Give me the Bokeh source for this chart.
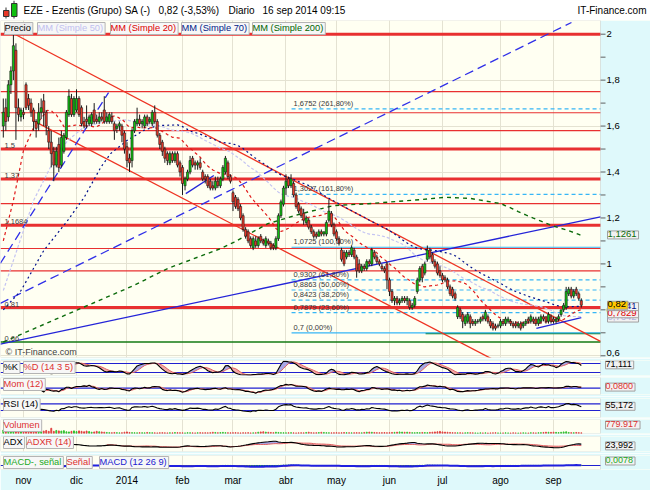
import numpy as np
import pandas as pd
from bokeh.plotting import figure
from bokeh.layouts import column
from bokeh.models import (Range1d, FixedTicker, CustomJSTickFormatter, Span, Label,
                          Grid, LinearAxis, BoxAnnotation)
from bokeh.embed import file_html
from bokeh.resources import INLINE

# ---------------- data ----------------
first_day = "2013-10-22"
last_day = "2014-09-16"
market_holidays = ["2013-12-25", "2013-12-26", "2014-01-01",
                   "2014-04-18", "2014-04-21", "2014-05-01"]
month_names = {1: "2014", 2: "feb", 3: "mar", 4: "abr", 5: "may", 6: "jun",
               7: "jul", 8: "ago", 9: "sep", 10: "oct", 11: "nov", 12: "dic"}

opens = [
    1.60, 1.68, 1.64, 1.78, 1.84, 1.93, 1.68, 1.64, 1.66, 1.78,
    1.72, 1.70, 1.67, 1.62, 1.61, 1.66, 1.71, 1.66, 1.58, 1.53,
    1.49, 1.43, 1.52, 1.43, 1.49, 1.55, 1.65, 1.72, 1.65, 1.67,
    1.72, 1.68, 1.62, 1.63, 1.61, 1.61, 1.67, 1.63, 1.62, 1.64,
    1.67, 1.62, 1.62, 1.64, 1.61, 1.59, 1.60, 1.60, 1.57, 1.51,
    1.46, 1.45, 1.58, 1.61, 1.63, 1.61, 1.60, 1.64, 1.62, 1.61,
    1.66, 1.62, 1.56, 1.53, 1.50, 1.48, 1.44, 1.48, 1.45, 1.48,
    1.44, 1.42, 1.34, 1.37, 1.40, 1.46, 1.44, 1.43, 1.44, 1.40,
    1.38, 1.38, 1.36, 1.34, 1.33, 1.36, 1.34, 1.37, 1.40, 1.44,
    1.38, 1.31, 1.29, 1.28, 1.25, 1.21, 1.15, 1.14, 1.11, 1.07,
    1.10, 1.08, 1.12, 1.10, 1.08, 1.10, 1.09, 1.08, 1.07, 1.11,
    1.21, 1.26, 1.33, 1.37, 1.34, 1.35, 1.30, 1.26, 1.24, 1.22,
    1.18, 1.19, 1.16, 1.14, 1.13, 1.12, 1.14, 1.13, 1.13, 1.19,
    1.22, 1.17, 1.14, 1.11, 1.06, 1.05, 1.03, 1.05, 1.04, 1.06,
    1.03, 1.00, 0.97, 0.99, 0.98, 1.01, 1.00, 1.05, 1.03, 1.01,
    0.99, 0.98, 1.00, 0.93, 0.88, 0.84, 0.85, 0.83, 0.84, 0.85,
    0.84, 0.84, 0.81, 0.82, 0.88, 0.93, 0.99, 0.96, 1.02, 1.06,
    1.04, 1.01, 1.00, 0.97, 0.95, 0.94, 0.93, 0.90, 0.89, 0.87,
    0.77, 0.80, 0.78, 0.74, 0.75, 0.77, 0.75, 0.74, 0.75, 0.75,
    0.77, 0.76, 0.77, 0.75, 0.74, 0.73, 0.73, 0.73, 0.75, 0.74,
    0.75, 0.75, 0.74, 0.74, 0.73, 0.74, 0.73, 0.74, 0.76, 0.75,
    0.76, 0.76, 0.74, 0.75, 0.77, 0.77, 0.75, 0.77, 0.76, 0.75,
    0.76, 0.78, 0.80, 0.81, 0.87, 0.89, 0.86, 0.89, 0.87, 0.84]
highs = [
    1.72, 1.72, 1.80, 1.86, 2.00, 1.96, 1.72, 1.68, 1.68, 1.79,
    1.74, 1.72, 1.68, 1.63, 1.70, 1.72, 1.74, 1.67, 1.60, 1.58,
    1.51, 1.51, 1.55, 1.58, 1.57, 1.67, 1.76, 1.74, 1.73, 1.76,
    1.73, 1.69, 1.64, 1.69, 1.65, 1.66, 1.70, 1.65, 1.66, 1.66,
    1.73, 1.66, 1.66, 1.66, 1.62, 1.61, 1.62, 1.61, 1.58, 1.53,
    1.48, 1.59, 1.63, 1.68, 1.65, 1.63, 1.65, 1.65, 1.64, 1.67,
    1.69, 1.63, 1.57, 1.54, 1.51, 1.49, 1.49, 1.49, 1.49, 1.49,
    1.45, 1.43, 1.38, 1.41, 1.47, 1.47, 1.45, 1.45, 1.46, 1.41,
    1.39, 1.39, 1.37, 1.36, 1.38, 1.38, 1.38, 1.43, 1.47, 1.45,
    1.39, 1.32, 1.30, 1.29, 1.26, 1.22, 1.16, 1.15, 1.12, 1.12,
    1.12, 1.12, 1.13, 1.11, 1.12, 1.11, 1.10, 1.09, 1.12, 1.22,
    1.28, 1.34, 1.39, 1.38, 1.39, 1.36, 1.31, 1.27, 1.25, 1.24,
    1.21, 1.20, 1.17, 1.15, 1.14, 1.15, 1.15, 1.14, 1.19, 1.28,
    1.23, 1.18, 1.15, 1.12, 1.07, 1.06, 1.06, 1.06, 1.08, 1.07,
    1.04, 1.02, 1.00, 1.00, 1.02, 1.02, 1.07, 1.06, 1.04, 1.02,
    1.00, 0.99, 1.01, 0.94, 0.89, 0.86, 0.86, 0.85, 0.86, 0.86,
    0.86, 0.85, 0.83, 0.86, 0.94, 0.99, 1.00, 1.01, 1.08, 1.07,
    1.05, 1.02, 1.01, 0.99, 0.96, 0.95, 0.94, 0.91, 0.90, 0.88,
    0.82, 0.81, 0.79, 0.78, 0.79, 0.78, 0.76, 0.76, 0.76, 0.77,
    0.78, 0.80, 0.78, 0.76, 0.75, 0.74, 0.74, 0.76, 0.76, 0.77,
    0.77, 0.76, 0.75, 0.75, 0.75, 0.75, 0.75, 0.76, 0.77, 0.78,
    0.77, 0.77, 0.77, 0.78, 0.78, 0.77, 0.79, 0.78, 0.77, 0.77,
    0.78, 0.80, 0.83, 0.90, 0.90, 0.90, 0.89, 0.90, 0.88, 0.85]
lows = [
    1.55, 1.58, 1.62, 1.74, 1.80, 1.54, 1.62, 1.62, 1.63, 1.67,
    1.67, 1.64, 1.58, 1.55, 1.58, 1.63, 1.60, 1.56, 1.50, 1.42,
    1.36, 1.42, 1.40, 1.42, 1.48, 1.54, 1.64, 1.64, 1.64, 1.66,
    1.64, 1.60, 1.59, 1.59, 1.60, 1.60, 1.61, 1.61, 1.61, 1.62,
    1.61, 1.61, 1.61, 1.61, 1.54, 1.57, 1.58, 1.53, 1.48, 1.42,
    1.40, 1.42, 1.57, 1.60, 1.60, 1.59, 1.59, 1.60, 1.61, 1.60,
    1.61, 1.55, 1.50, 1.47, 1.44, 1.43, 1.43, 1.44, 1.44, 1.42,
    1.38, 1.30, 1.32, 1.36, 1.39, 1.42, 1.41, 1.41, 1.41, 1.36,
    1.35, 1.33, 1.32, 1.32, 1.32, 1.33, 1.33, 1.36, 1.39, 1.37,
    1.35, 1.23, 1.24, 1.23, 1.19, 1.14, 1.11, 1.09, 1.07, 1.06,
    1.07, 1.07, 1.09, 1.08, 1.07, 1.08, 1.06, 1.06, 1.06, 1.10,
    1.20, 1.25, 1.30, 1.33, 1.33, 1.29, 1.24, 1.22, 1.20, 1.17,
    1.17, 1.15, 1.13, 1.11, 1.11, 1.12, 1.12, 1.12, 1.12, 1.18,
    1.16, 1.12, 1.10, 1.08, 1.01, 0.99, 1.02, 1.03, 1.03, 1.02,
    0.94, 0.96, 0.96, 0.97, 0.97, 0.99, 0.99, 1.02, 1.00, 0.99,
    0.97, 0.96, 0.89, 0.86, 0.83, 0.82, 0.82, 0.82, 0.83, 0.83,
    0.82, 0.80, 0.80, 0.81, 0.87, 0.92, 0.92, 0.95, 1.01, 1.02,
    1.00, 0.98, 0.95, 0.94, 0.92, 0.92, 0.89, 0.86, 0.85, 0.84,
    0.76, 0.76, 0.72, 0.73, 0.74, 0.72, 0.73, 0.73, 0.74, 0.74,
    0.75, 0.75, 0.74, 0.72, 0.71, 0.71, 0.72, 0.72, 0.73, 0.73,
    0.74, 0.73, 0.72, 0.72, 0.72, 0.71, 0.72, 0.73, 0.74, 0.74,
    0.74, 0.73, 0.73, 0.74, 0.75, 0.74, 0.74, 0.74, 0.74, 0.74,
    0.75, 0.77, 0.79, 0.80, 0.86, 0.85, 0.85, 0.86, 0.84, 0.81]
closes = [
    1.66, 1.62, 1.78, 1.84, 1.95, 1.68, 1.65, 1.67, 1.65, 1.68,
    1.69, 1.66, 1.62, 1.59, 1.66, 1.68, 1.66, 1.60, 1.53, 1.48,
    1.43, 1.49, 1.42, 1.55, 1.56, 1.66, 1.73, 1.65, 1.72, 1.72,
    1.65, 1.61, 1.60, 1.62, 1.64, 1.65, 1.62, 1.62, 1.64, 1.63,
    1.62, 1.64, 1.65, 1.62, 1.58, 1.60, 1.61, 1.56, 1.50, 1.45,
    1.44, 1.58, 1.62, 1.63, 1.61, 1.62, 1.64, 1.61, 1.63, 1.66,
    1.62, 1.56, 1.52, 1.49, 1.46, 1.45, 1.48, 1.45, 1.48, 1.43,
    1.40, 1.35, 1.37, 1.40, 1.45, 1.43, 1.43, 1.44, 1.42, 1.37,
    1.37, 1.34, 1.33, 1.33, 1.36, 1.34, 1.37, 1.42, 1.46, 1.38,
    1.36, 1.27, 1.25, 1.24, 1.20, 1.15, 1.12, 1.10, 1.08, 1.11,
    1.08, 1.11, 1.10, 1.09, 1.11, 1.09, 1.07, 1.07, 1.11, 1.21,
    1.27, 1.33, 1.36, 1.34, 1.37, 1.30, 1.25, 1.23, 1.21, 1.19,
    1.20, 1.16, 1.14, 1.12, 1.12, 1.14, 1.13, 1.14, 1.18, 1.23,
    1.17, 1.13, 1.11, 1.09, 1.02, 1.00, 1.05, 1.04, 1.07, 1.03,
    0.97, 0.97, 0.99, 0.98, 1.01, 1.00, 1.06, 1.03, 1.01, 1.00,
    0.98, 0.97, 0.93, 0.88, 0.84, 0.85, 0.83, 0.84, 0.85, 0.84,
    0.85, 0.81, 0.82, 0.85, 0.93, 0.98, 0.94, 1.00, 1.06, 1.03,
    1.01, 0.99, 0.96, 0.95, 0.93, 0.93, 0.90, 0.87, 0.86, 0.85,
    0.81, 0.77, 0.75, 0.77, 0.78, 0.74, 0.74, 0.75, 0.75, 0.76,
    0.76, 0.79, 0.75, 0.73, 0.72, 0.72, 0.73, 0.75, 0.74, 0.76,
    0.76, 0.74, 0.73, 0.73, 0.74, 0.72, 0.74, 0.75, 0.75, 0.77,
    0.75, 0.74, 0.76, 0.77, 0.76, 0.75, 0.78, 0.75, 0.75, 0.76,
    0.77, 0.80, 0.82, 0.88, 0.89, 0.86, 0.88, 0.87, 0.85, 0.82]
volumes_k = [
    4000, 3500, 5000, 6000, 8000, 5000, 3000, 2500, 2000, 3000,
    2500, 2000, 1800, 2200, 3000, 2500, 2800, 3500, 2500, 6000,
    2500, 3500, 3000, 2800, 3200, 2000, 1800, 2500, 3000, 2200,
    3000, 2500, 2000, 2800, 2200, 1500, 1800, 2500, 2000, 1800,
    1500, 1200, 1000, 900, 1200, 1000, 800, 900, 1500, 1800,
    1200, 1000, 900, 800, 1000, 900, 800, 1200, 1000, 900,
    800, 700, 900, 1000, 800, 700, 900, 800, 1100, 1000,
    900, 800, 700, 1000, 900, 800, 700, 900, 1000, 800,
    900, 800, 1000, 1400, 1200, 900, 1100, 1300, 1000, 900,
    800, 900, 1000, 800, 700, 900, 800, 1000, 700, 800,
    900, 1500, 1800, 2000, 1600, 1400, 1200, 1000, 1500, 1200,
    1000, 900, 800, 900, 1000, 800, 700, 800, 900, 800,
    1200, 1500, 1000, 800, 900, 1100, 1400, 1200, 1000, 900,
    800, 900, 1000, 800, 900, 1100, 1000, 900, 800, 900,
    1000, 900, 800, 1200, 1500, 1600, 1400, 1200, 1000, 900,
    1000, 1100, 900, 1000, 1200, 1300, 1500, 1800, 1600, 1400,
    1500, 1300, 1000, 900, 1100, 1000, 1200, 1100, 1000, 1300,
    1500, 1800, 2000, 2400, 1800, 1600, 1400, 1200, 1000, 900,
    800, 900, 700, 800, 1000, 900, 800, 700, 600, 800,
    700, 800, 600, 700, 800, 900, 700, 600, 700, 800,
    700, 600, 800, 700, 600, 700, 800, 700, 600, 900,
    800, 700, 900, 1000, 1200, 1500, 1400, 1300, 1500, 1300,
    1100, 1400, 1800, 2000, 1200, 1000, 900, 1200, 1000, 780]

sma20_early_x = [0, 4, 8, 12, 17.5]
sma20_early_v = [1.10, 1.276, 1.494, 1.593, 1.668]
sma50_early_x = [0, 12, 20, 25.5, 31.8, 38.6]
sma50_early_v = [0.884, 1.276, 1.45, 1.537, 1.594, 1.615]
sma70_early_x = [0, 7, 16, 25.5, 32, 38.6, 42.5, 49, 55.6, 61]
sma70_early_v = [0.80, 0.884, 1.058, 1.189, 1.289, 1.42, 1.48, 1.537, 1.581, 1.602]
sma200_early_x = [0, 29.4, 51.7, 65.1, 86.2, 91.3, 104.8, 117.9, 131, 144.5, 165.5, 175, 185, 197.3]
sma200_early_v = [0.66, 0.80, 0.906, 0.98, 1.067, 1.094, 1.175, 1.218, 1.254, 1.262, 1.28, 1.29, 1.285, 1.262]

# last values shown in the boxes at the right
last_price = 0.82
last_sma200 = 1.1261
last_sma70 = 0.8141
last_sma20 = 0.7829
last_sma50 = 0.7642
last_stoch = 71.111
last_mom = 0.0800
last_rsi = 55.172
last_volume = 779917
last_adx = 23.992
last_macd = 0.0078

price_ticks = [0.6, 0.7, 0.8, 0.9, 1.0, 1.1, 1.2, 1.3, 1.4, 1.5, 1.6, 1.7, 1.8, 1.9, 2.0]
price_grid = [0.6, 0.8, 1.0, 1.2, 1.4, 1.6, 1.8, 2.0]

thick_levels = [2.0, 1.5, 1.37, 1.1684, 0.81]
thin_levels = [1.75, 1.658, 1.58, 1.262, 1.067, 0.97]
level_label_prices = [1.5, 1.37, 1.1684, 0.81, 0.66]
level_label_texts = ["1,5", "1,37", "1,1684", "0,81", "0,66"]
green_level = 0.66
green_level2 = 0.697
green_level2_start = 167.3

fib_levels = [1.6752, 1.3027, 1.0725, 0.9302, 0.8863, 0.8423, 0.7879, 0.7]
fib_pcts = ["261,80%", "161,80%", "100,00%", "61,80%", "50,00%", "38,20%", "23,60%", "0,00%"]
fib_solid = [False, False, True, False, False, False, False, True]
fib_start = 114.2

# drawn trend lines: (index, price) end points
trend_x0 = [4.0, 11.6, -1.2, -1.2, -1.2, 72.3, 211.2]
trend_y0 = [2.003, 1.625, 0.651, 0.828, 1.002, 1.306, 0.719]
trend_x1 = [236.6, 236.6, 236.6, 225.1, 41.7, 83.4, 229.0]
trend_y1 = [0.663, 0.341, 1.205, 2.051, 1.746, 1.385, 0.766]
trend_color = ["#ee3322", "#ee3322", "#2424d8", "#3030e8", "#3030e8", "#2424d8", "#2424d8"]
trend_dash = ["solid", "solid", "solid", "9 5", "9 5", "solid", "solid"]

# ---------------- geometry & styling ----------------
FONT = "Liberation Sans"
CYAN = "#dff9fb"
CREAM = "#fffff2"
GRID = "#e4e2d2"
FRAME = "#a8a8a8"
RED = "#e83030"
CGREEN = "#10c010"
CRED = "#e83828"
PINK = "#f2a8a8"
LAV = "#a8a8e6"
BLUE = "#2020d0"
W = 650
PX = 2.524                      # pixels per trading day
X0_PIX, X0_IDX = 23, 8          # first of November sits at pixel 23


def ix(px):
    """horizontal pixel -> index units"""
    return X0_IDX + (px - X0_PIX) / PX


XS = ix(0)
XE = ix(W)
CHART_END = ix(600)

n = len(closes)
dates = pd.bdate_range(first_day, last_day, freq="C", holidays=market_holidays)[:n]
x = np.arange(n)
o = np.array(opens, dtype=float)
h = np.array(highs, dtype=float)
l = np.array(lows, dtype=float)
c = np.array(closes, dtype=float)
h = np.maximum(h, np.maximum(o, c))
l = np.minimum(l, np.minimum(o, c))
up = c >= o

month_ticks, month_text = [], []
for k in range(1, len(dates)):
    if dates[k].month != dates[k - 1].month:
        month_ticks.append(k)
        month_text.append(month_names[dates[k].month])

xr = Range1d(XS, XE)
cs = pd.Series(c)
hs = pd.Series(h)
ls = pd.Series(l)


def hybrid(ex, ev, window):
    full = cs.rolling(window).mean().to_numpy()
    start = window - 1
    return list(ex) + list(range(start, n)), list(ev) + list(full[start:])


def comma(v):
    return str(v).replace(".", ",")


def base_fig(height, top, bottom, yr, bg=CREAM):
    f = figure(width=W, height=height, x_range=xr, y_range=Range1d(*yr),
               output_backend="svg", toolbar_location=None, x_axis_location=None,
               y_axis_location=None, min_border_left=0, min_border_right=0,
               min_border_top=top, min_border_bottom=bottom,
               background_fill_color=bg, border_fill_color=CYAN, outline_line_color=None)
    f.center = [r for r in f.center if not isinstance(r, Grid)]
    f.add_layout(Grid(dimension=0, ticker=FixedTicker(ticks=month_ticks),
                      grid_line_color=GRID), "center")
    return f


def finish(f):
    # the light cyan value column at the right and the grey frame of the chart
    f.add_layout(BoxAnnotation(left=CHART_END, fill_color=CYAN, fill_alpha=1,
                               line_color=None, level="underlay"))
    f.add_layout(BoxAnnotation(right=CHART_END, fill_alpha=0, line_color=FRAME,
                               line_width=1, level="overlay"))


def tag(f, px, fh, gap, text, color, bg="#f7f7f7"):
    f.add_layout(Label(x=px + 2, y=fh - gap, x_units="screen", y_units="screen", text=text,
                       text_color=color, text_font=FONT, text_font_size="9.3px",
                       text_baseline="top", background_fill_color=bg,
                       border_line_color="#b4b4b4", padding=(0, 2, 0, 2)))


def vbox(f, yv, text, color, px=605, bg="#f2f2f2", units="data", size="9px"):
    f.add_layout(Label(x=ix(px), y=yv, y_units=units, text=text,
                       text_color=color, text_font=FONT, text_font_size=size,
                       text_baseline="middle", background_fill_color=bg,
                       border_line_color="#a0a0a0", padding=(0, 2, 0, 2)))


# ---------------- title bar ----------------
t = figure(width=W, height=20, x_range=Range1d(0, W), y_range=Range1d(0, 20),
           output_backend="svg", toolbar_location=None, x_axis_location=None,
           y_axis_location=None, min_border=0, background_fill_color="white",
           border_fill_color="white", outline_line_color=None)
t.grid.visible = False
t.segment(x0=[5.5, 13.5], y0=[2, 2], x1=[5.5, 13.5], y1=[13, 20], line_color="#333333")
t.quad(left=[3, 11], right=[8.5, 16.5], bottom=[4, 4], top=[10, 17],
       fill_color=[CRED, CGREEN], line_color="#333333")
for tx, txt, al in [(23, "EZE - Ezentis (Grupo) SA (-)", "left"),
                    (158, "0,82 (-3,53%)", "left"),
                    (228, "Diario", "left"),
                    (262, "16 sep 2014 09:15", "left"),
                    (646, "IT-Finance.com", "right")]:
    t.add_layout(Label(x=tx, y=10, x_units="screen", y_units="screen", text=txt,
                       text_font=FONT, text_font_size="10px", text_color="black",
                       text_baseline="middle", text_align=al))

# ---------------- main price chart ----------------
FH = 337
p = base_fig(338, 0, 1, (0.5925, 2.0596))
p.add_layout(Grid(dimension=1, ticker=FixedTicker(ticks=price_grid), grid_line_color=GRID), "center")
for lv in thin_levels:
    p.add_layout(Span(location=lv, dimension="width", line_color=RED, line_width=1.2, level="underlay"))
for lv in thick_levels:
    p.add_layout(Span(location=lv, dimension="width", line_color=RED, line_width=3, level="underlay"))
p.add_layout(Span(location=green_level, dimension="width", line_color="#137a13",
                  line_width=1.3, level="underlay"))
finish(p)
p.segment(x0=[green_level2_start], y0=[green_level2], x1=[CHART_END], y1=[green_level2],
          line_color="#137a13", line_width=1.3)

# price axis at the right
p.segment(x0=[CHART_END] * len(price_ticks), y0=price_ticks,
          x1=[ix(605)] * len(price_ticks), y1=price_ticks, line_color="#606060", line_width=1)
for k, tv in enumerate(price_ticks):
    if k % 2 == 0:
        p.add_layout(Label(x=ix(606), y=tv, text=comma(round(tv, 1)).replace(",0", "") if tv in (1.0, 2.0) else comma(round(tv, 1)),
                           text_font=FONT, text_font_size="9.5px", text_color="black",
                           text_baseline="middle", y_offset=3 if k == 0 else 0))

# fibonacci retracement
for lv, pc, solid in zip(fib_levels, fib_pcts, fib_solid):
    p.segment(x0=[fib_start], y0=[lv], x1=[CHART_END], y1=[lv], line_color="#36b6f6",
              line_width=1.2, line_dash="solid" if solid else "4 3")
    p.add_layout(Label(x=fib_start + 0.8, y=lv, text=f"{comma(lv)} ({pc})", text_font=FONT,
                       text_font_size="7.5px", text_color="#383838", text_baseline="bottom",
                       y_offset=1))

# trend lines
for xa, ya0, xb, yb, col, dsh in zip(trend_x0, trend_y0, trend_x1, trend_y1, trend_color, trend_dash):
    p.segment(x0=[xa], y0=[ya0], x1=[xb], y1=[yb], line_color=col, line_width=1.3, line_dash=dsh)

# moving averages
for ex, ev, win, col, dsh, lw in [(sma200_early_x, sma200_early_v, 200, "#0a6a0a", "4 4", 1.4),
                                  (sma70_early_x, sma70_early_v, 70, "#00108c", "2 3", 1.2),
                                  (sma50_early_x, sma50_early_v, 50, "#c4c4f2", "3 2", 1.2),
                                  (sma20_early_x, sma20_early_v, 20, "#e01818", "3 3", 1.2)]:
    mx, mv = hybrid(ex, ev, win)
    p.line(mx, mv, line_color=col, line_dash=dsh, line_width=lw)

# candles
p.segment(x0=x, y0=l, x1=x, y1=h, line_color="#1a1a1a", line_width=1)
p.vbar(x=x, width=0.85, top=np.maximum(o, c), bottom=np.minimum(o, c),
       fill_color=np.where(up, CGREEN, CRED).tolist(), line_color="#1a1a1a", line_width=0.6)

for lp, lt in zip(level_label_prices, level_label_texts):
    p.add_layout(Label(x=ix(4), y=lp, text=lt, text_font=FONT,
                       text_font_size="7.5px", text_color="#404040", text_baseline="bottom",
                       y_offset=1))
p.add_layout(Label(x=5, y=1, x_units="screen", y_units="screen", text="\u00a9 IT-Finance.com",
                   text_font=FONT, text_font_size="9px", text_color="#404040",
                   text_baseline="bottom"))

for px, txt, col, bg in [(2, "Precio", "black", "#ececec"),
                         (35, "MM (Simple 50)", "#c0c0f0", "#f7f7f7"),
                         (108, "MM (Simple 20)", "#dd0000", "#f7f7f7"),
                         (179, "MM (Simple 70)", "#002288", "#f7f7f7"),
                         (250, "MM (Simple 200)", "#006600", "#f7f7f7")]:
    tag(p, px, FH, 2, txt, col, bg)

vbox(p, last_sma200, comma(last_sma200), "#0a6a0a", px=607, size="9.5px")
vbox(p, last_sma50, comma(last_sma50), "#b0b0e0", px=607, size="9.5px")
vbox(p, last_sma20, comma(last_sma20), "#dd0000", px=607, size="9.5px")
vbox(p, last_sma70, comma(last_sma70), "#00108c", px=607, size="9.5px")
vbox(p, last_price, comma(last_price), "black", px=607, bg="#ffc800", size="9.5px")

# ---------------- indicators ----------------
ll14 = ls.rolling(14).min()
hh14 = hs.rolling(14).max()
stoch_k = (100 * (cs - ll14) / (hh14 - ll14)).rolling(3).mean()
stoch_d = stoch_k.rolling(5).mean()
mom = cs - cs.shift(12)
mom_avg = mom.rolling(3).mean()
delta = cs.diff()
gain = delta.clip(lower=0)
loss = (-delta).clip(lower=0)
rsi = 100 - 100 / (1 + gain.ewm(alpha=1 / 14, adjust=False, min_periods=14).mean()
                   / loss.ewm(alpha=1 / 14, adjust=False, min_periods=14).mean())
upm = hs.diff()
dnm = -ls.diff()
pdm = pd.Series(np.where((upm > dnm) & (upm > 0), upm, 0.0))
mdm = pd.Series(np.where((dnm > upm) & (dnm > 0), dnm, 0.0))
tr = pd.concat([hs - ls, (hs - cs.shift()).abs(), (ls - cs.shift()).abs()], axis=1).max(axis=1)
atr = tr.ewm(alpha=1 / 14, adjust=False).mean()
pdi = 100 * pdm.ewm(alpha=1 / 14, adjust=False).mean() / atr
mdi = 100 * mdm.ewm(alpha=1 / 14, adjust=False).mean() / atr
dx = 100 * (pdi - mdi).abs() / (pdi + mdi)
adx = dx.ewm(alpha=1 / 14, adjust=False).mean()
adx[:27] = np.nan
adxr = (adx + adx.shift(14)) / 2
ema12 = cs.ewm(span=12, adjust=False).mean()
ema26 = cs.ewm(span=26, adjust=False).mean()
macd = ema12 - ema26
signal = macd.ewm(span=9, adjust=False).mean()
hist = macd - signal


def dual_fill(f, a, b):
    a = np.asarray(a, dtype=float)
    b = np.asarray(b, dtype=float)
    m = ~(np.isnan(a) | np.isnan(b))
    xx, aa, bb = x[m], a[m], b[m]
    top = np.maximum(aa, bb)
    f.varea(x=xx, y1=aa, y2=top, fill_color=PINK)
    f.varea(x=xx, y1=bb, y2=top, fill_color=LAV)


def blue_lines(f, levels):
    for lv in levels:
        f.add_layout(Span(location=lv, dimension="width", line_color=BLUE,
                          line_width=1.2, level="underlay"))


# %K %D
p1 = base_fig(18, 2, 1, (0, 100))
blue_lines(p1, [20, 80])
finish(p1)
dual_fill(p1, stoch_k, stoch_d)
p1.line(x, stoch_d, line_color="#e06060", line_width=1)
p1.line(x, stoch_k, line_color="black", line_width=1.1)
tag(p1, 1, 15, 1, "%K", "black")
tag(p1, 21, 15, 1, "%D (14 3 5)", "#dd3030")
vbox(p1, last_stoch, comma(last_stoch), "black")

# Momentum
p2 = base_fig(20, 1, 2, (-0.47, 0.79))
blue_lines(p2, [0])
finish(p2)
dual_fill(p2, mom, mom_avg)
p2.line(x, mom_avg, line_color="#e06060", line_width=1)
p2.line(x, mom, line_color="black", line_width=1.1)
tag(p2, 1, 17, 1, "Mom (12)", "#dd3030")
vbox(p2, last_mom, "0,0800", "#dd3030")

# RSI
p3 = base_fig(22, 2, 1, (-12, 102))
blue_lines(p3, [30, 70])
finish(p3)
p3.line(x, rsi, line_color="black", line_width=1.1)
tag(p3, 1, 19, 0, "RSI (14)", "black")
vbox(p3, last_rsi, comma(last_rsi), "black")

# Volume
p4 = base_fig(16, 1, 1, (0, 16000))
finish(p4)
p4.vbar(x=x, width=0.35, top=volumes_k, bottom=0,
        color=np.where(up, "#30c030", "#e04040").tolist())
tag(p4, 1, 14, 0, "Volumen", "#dd3030")
vbox(p4, 8.5, f"{last_volume:,}".replace(",", "."), "#dd3030", units="screen")

# ADX / ADXR
p5 = base_fig(19, 2, 2, (0, 64))
finish(p5)
dual_fill(p5, adx, adxr)
p5.line(x, adxr, line_color="#e06060", line_width=1)
p5.line(x, adx, line_color="black", line_width=1.1)
tag(p5, 1, 15, 0, "ADX", "black")
tag(p5, 24, 15, 0, "ADXR (14)", "#dd3030")
vbox(p5, last_adx, comma(last_adx), "black")

# MACD
p6 = base_fig(37, 2, 21, (-0.3, 0.75))
blue_lines(p6, [0])
finish(p6)
p6.vbar(x=x, width=0.3, top=hist, bottom=0, color="#30c030")
p6.line(x, signal, line_color="#e06060", line_width=1)
p6.line(x, macd, line_color="#2020e0", line_width=2)
tag(p6, 1, 14, 1, "MACD-, se\u00f1al", "#22aa22")
tag(p6, 64, 14, 1, "Se\u00f1al", "#dd3030")
tag(p6, 97, 14, 1, "MACD (12 26 9)", "#2020d0")
vbox(p6, 8.5, "0,0078", "#22aa22", units="screen")
ax = LinearAxis(ticker=FixedTicker(ticks=month_ticks),
                formatter=CustomJSTickFormatter(args=dict(month_ix=month_ticks, month_nm=month_text),
                                                code="const k = month_ix.indexOf(tick); return k >= 0 ? month_nm[k] : '';"),
                major_tick_out=0, major_tick_in=0, minor_tick_out=0, minor_tick_in=0,
                axis_line_color=None, major_label_text_font=FONT,
                major_label_text_font_size="10px", major_label_text_color="black",
                major_label_standoff=5)
p6.add_layout(ax, "below")

layout = column(t, p, p1, p2, p3, p4, p5, p6, spacing=0)
open("out.html", "w").write(file_html(layout, INLINE))
